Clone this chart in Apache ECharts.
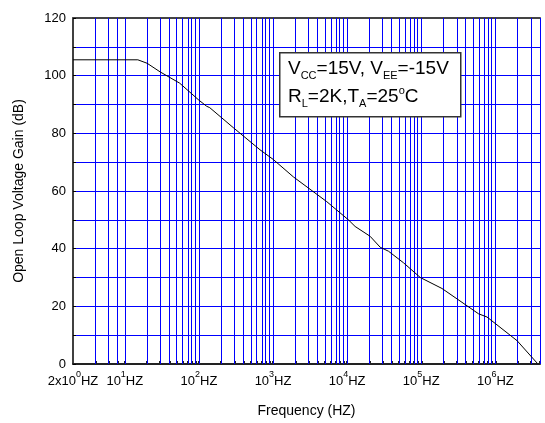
<!DOCTYPE html>
<html>
<head>
<meta charset="utf-8">
<script src="https://cdn.jsdelivr.net/npm/echarts@6/dist/echarts.min.js"></script>
<style>
  html, body { margin: 0; padding: 0; background: #fff; }
  #chart { width: 545px; height: 423px; }
</style>
</head>
<body>
<div id="chart"></div>
<script>
// curve: frequency (Hz) and gain (dB)
const freqHz = [2, 15, 20, 30, 55, 100, 127, 140, 290, 667, 1000, 1880, 5310, 10400, 12800, 20400, 27900, 36200, 57600, 97000, 190000, 303000, 594000, 771000, 1960000, 3660000]
const gainDb = [105.5, 105.5, 104.3, 101.3, 97.4, 91.5, 89.4, 88.9, 82.0, 74.3, 71.0, 64.9, 56.3, 50.0, 47.7, 44.3, 40.5, 39.1, 35.1, 30.0, 26.2, 22.6, 17.4, 16.3, 8.1, 0.3]

// vertical grid lines (Hz)
const gridFreqs = [4, 6, 8, 10, 20, 30, 40, 50, 60, 70, 80, 90, 100,
  200, 300, 400, 500, 600, 700, 800, 900, 1e3,
  2e3, 3e3, 4e3, 5e3, 6e3, 7e3, 8e3, 9e3, 1e4,
  2e4, 3e4, 4e4, 5e4, 6e4, 7e4, 8e4, 9e4, 1e5,
  2e5, 3e5, 4e5, 5e5, 6e5, 7e5, 8e5, 9e5, 1e6,
  2e6, 3e6, 4e6]

// x tick labels
const xLabelFreqs = [2, 10, 100, 1e3, 1e4, 1e5, 1e6]
const xLabelExps = ['0', '1', '2', '3', '4', '5', '6']

// conditions box, pieces: [text, kind]
const boxLine1 = [['V', 'n'], ['CC', 'sub'], ['=15V, V', 'n'], ['EE', 'sub'], ['=-15V', 'n']]
const boxLine2 = [['R', 'n'], ['L', 'sub'], ['=2K,T', 'n'], ['A', 'sub'], ['=25', 'n'], ['o', 'sup'], ['C', 'n']]

const FONT = "'Liberation Sans', Arial, sans-serif"
const GRID_BLUE = '#0000ff'

const chart = echarts.init(document.getElementById('chart'), null, { renderer: 'canvas' })

const lg = v => Math.log10(v)

const curve = freqHz.map((f, i) => [lg(f), gainDb[i]])
const labelPos = xLabelFreqs.map(lg)

// lay the box text out piece by piece so sub/superscripts sit right
const SIZES = { n: 19, sub: 11, sup: 11 }
const SHIFT = { n: 0, sub: 5, sup: -8 }
const measure = document.createElement('canvas').getContext('2d')
function boxText(pieces, x0, baseline) {
  let x = x0
  return pieces.map(([txt, kind]) => {
    const fs = SIZES[kind]
    measure.font = fs + "px 'Liberation Sans'"
    const el = {
      type: 'text',
      x: x,
      y: baseline + SHIFT[kind] - fs * 0.35,
      z: 11,
      style: { text: txt, fontFamily: FONT, fontSize: fs, fill: '#000', verticalAlign: 'middle' },
    }
    x += measure.measureText(txt).width
    return el
  })
}

const option = {
  animation: false,
  grid: { left: 73, right: 5, top: 18, bottom: 55 },
  xAxis: [
    {
      type: 'value',
      min: lg(2),
      max: lg(4e6),
      axisLine: { show: true, lineStyle: { color: '#222', width: 2 } },
      axisTick: {
        show: true, inside: true, length: 3,
        customValues: gridFreqs.map(lg),
        lineStyle: { color: '#222', width: 2 },
      },
      splitLine: { show: false },
      axisLabel: {
        customValues: labelPos,
        color: '#000',
        margin: 6,
        formatter: v => {
          const i = labelPos.findIndex(p => Math.abs(p - v) < 1e-6)
          if (i < 0) return ''
          const pre = i === 0 ? '2x10' : '10'
          return '{b|' + pre + '}{s|' + xLabelExps[i] + '}{b|HZ}'
        },
        rich: {
          b: { fontFamily: FONT, fontSize: 13, color: '#000', lineHeight: 18, verticalAlign: 'bottom' },
          s: { fontFamily: FONT, fontSize: 9, color: '#000', lineHeight: 12, verticalAlign: 'top' },
        },
      },
      name: 'Frequency (HZ)',
      nameLocation: 'middle',
      nameGap: 40,
      nameTextStyle: { fontFamily: FONT, fontSize: 14, color: '#000' },
    },
    {
      type: 'value',
      position: 'top',
      min: lg(2),
      max: lg(4e6),
      axisLine: { show: true, lineStyle: { color: '#444', width: 2 } },
      axisTick: { show: false },
      axisLabel: { show: false },
      splitLine: { show: false },
    },
  ],
  yAxis: {
    type: 'value',
    min: 0,
    max: 120,
    interval: 10,
    axisLine: { show: true, lineStyle: { color: '#000', width: 1.5 } },
    axisTick: { show: true, inside: true, length: 3, lineStyle: { color: '#000' } },
    axisLabel: {
      color: '#000', fontFamily: FONT, fontSize: 13, margin: 7,
      formatter: v => (v % 20 === 0 ? String(v) : ''),
    },
    splitLine: { show: true, lineStyle: { color: GRID_BLUE, width: 1 } },
    name: 'Open Loop Voltage Gain (dB)',
    nameLocation: 'middle',
    nameGap: 47,
    nameTextStyle: { fontFamily: FONT, fontSize: 14, color: '#000' },
  },
  series: [
    {
      type: 'line',
      data: curve,
      showSymbol: false,
      smooth: false,
      z: 5,
      lineStyle: { color: '#000', width: 1 },
      markLine: {
        silent: true,
        symbol: 'none',
        label: { show: false },
        lineStyle: { color: GRID_BLUE, width: 1, type: 'solid' },
        data: gridFreqs.map(f => ({ xAxis: lg(f) })),
      },
    },
  ],
  graphic: [
    {
      type: 'rect',
      left: 279,
      top: 52,
      z: 10,
      shape: { width: 181, height: 64 },
      style: { fill: '#fff', stroke: '#333', lineWidth: 1.5 },
    },
    ...boxText(boxLine1, 288, 75),
    ...boxText(boxLine2, 288, 103),
  ],
}

chart.setOption(option)
</script>
</body>
</html>
